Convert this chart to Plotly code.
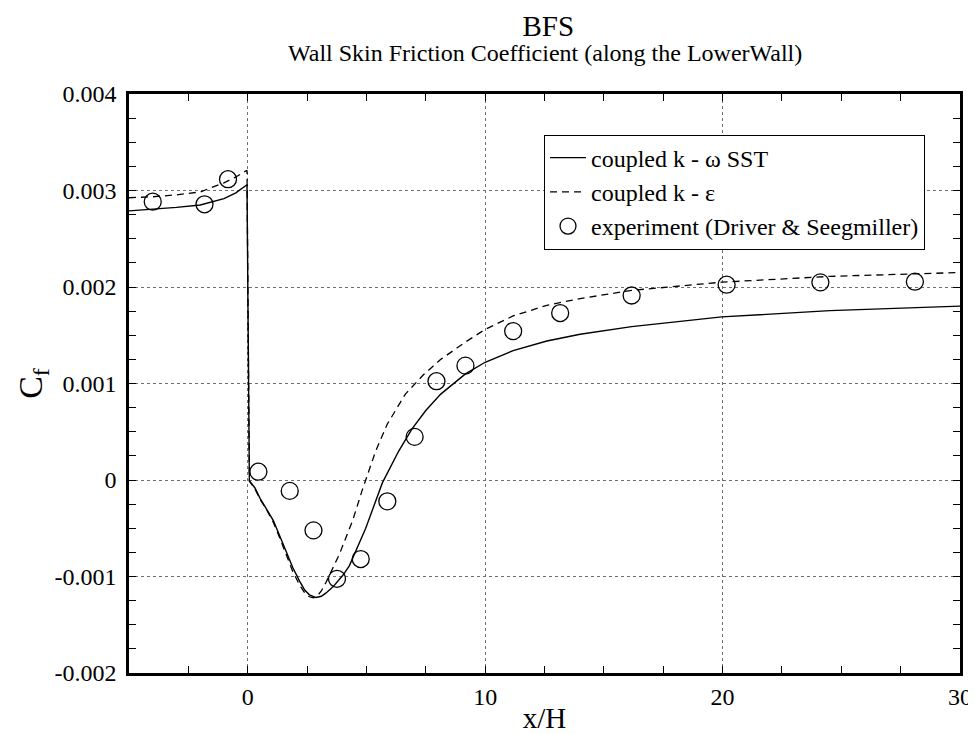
import plotly.graph_objects as go

# ---- data ----
sst_x = [-5, -4, -3, -2, -1, -0.5, -0.03, 0.07, 0.3, 0.52, 0.8, 1.08, 1.35, 1.63, 1.9,
         2.19, 2.4, 2.6, 2.88, 3.1, 3.3, 3.58, 4.0, 4.28, 4.97, 5.67, 6.36, 6.92, 7.5,
         8.13, 9.17, 10, 11.18, 12.6, 14, 16.17, 19.97, 24.52, 30]
sst_y = [2.789e-3, 2.805e-3, 2.825e-3, 2.85e-3, 2.915e-3, 2.975e-3, 3.06e-3, -0.01e-3,
         -0.08e-3, -0.19e-3, -0.3e-3, -0.42e-3, -0.58e-3, -0.75e-3, -0.91e-3,
         -1.05e-3, -1.14e-3, -1.19e-3, -1.218e-3, -1.205e-3, -1.17e-3, -1.11e-3,
         -0.99e-3, -0.89e-3, -0.5e-3, -0.03e-3, 0.3e-3, 0.53e-3, 0.72e-3,
         0.89e-3, 1.1e-3, 1.22e-3, 1.34e-3, 1.44e-3, 1.51e-3, 1.59e-3, 1.69e-3,
         1.755e-3, 1.802e-3]

ke_x = [-5, -4, -3, -2, -1, -0.5, -0.03, 0.07, 0.3, 0.52, 0.8, 1.08, 1.35, 1.63, 1.9,
        2.19, 2.4, 2.6, 2.76, 2.9, 3.1, 3.3, 3.58, 3.86, 4.42, 4.83, 5.39, 5.88, 6.64,
        7.4, 8.13, 9.17, 10, 11.18, 12.6, 14, 16.17, 19.97, 24.52, 30]
ke_y = [2.925e-3, 2.935e-3, 2.955e-3, 2.985e-3, 3.08e-3, 3.14e-3, 3.21e-3, -0.01e-3,
        -0.09e-3, -0.2e-3, -0.31e-3, -0.44e-3, -0.6e-3, -0.78e-3, -0.95e-3,
        -1.09e-3, -1.17e-3, -1.21e-3, -1.22e-3, -1.21e-3, -1.15e-3, -1.06e-3,
        -0.92e-3, -0.77e-3, -0.42e-3, -0.1e-3, 0.3e-3, 0.58e-3, 0.89e-3,
        1.09e-3, 1.25e-3, 1.43e-3, 1.56e-3, 1.7e-3, 1.81e-3, 1.88e-3, 1.965e-3,
        2.05e-3, 2.11e-3, 2.15e-3]

exp_x = [-4.0, -1.82, -0.83, 0.45, 1.77, 2.77, 3.76, 4.76, 5.88, 7.03, 7.95, 9.17,
         11.18, 13.16, 16.17, 20.17, 24.12, 28.1]
exp_y = [2.884e-3, 2.857e-3, 3.117e-3, 0.086e-3, -0.113e-3, -0.522e-3, -1.024e-3,
         -0.819e-3, -0.221e-3, 0.447e-3, 1.024e-3, 1.185e-3, 1.543e-3, 1.73e-3,
         1.912e-3, 2.024e-3, 2.048e-3, 2.055e-3]

x_tick_vals = [0, 10, 20, 30]
x_tick_text = ["0", "10", "20", "30"]
y_tick_vals = [-0.002, -0.001, 0, 0.001, 0.002, 0.003, 0.004]
y_tick_text = ["-0.002", "-0.001", "0", "0.001", "0.002", "0.003", "0.004"]

FONT = "Liberation Serif, Times New Roman, serif"

fig = go.Figure()
fig.add_trace(go.Scatter(x=sst_x, y=sst_y, mode="lines", name="coupled k - ω SST",
                         line=dict(color="black", width=1.4)))
fig.add_trace(go.Scatter(x=ke_x, y=ke_y, mode="lines", name="coupled k - ε",
                         line=dict(color="black", width=1.3, dash="7px,5px")))
fig.add_trace(go.Scatter(x=exp_x, y=exp_y, mode="markers",
                         name="experiment (Driver & Seegmiller)",
                         marker=dict(symbol="circle-open", size=17, color="black",
                                     line=dict(width=1.3, color="black"))))

axis_common = dict(
    ticks="inside", ticklen=7, tickwidth=1.2, tickcolor="black",
    showline=True, linewidth=2.5, linecolor="black", mirror="allticks",
    showgrid=True, gridcolor="#707070", griddash="dot", gridwidth=1,
    zeroline=False, tickfont=dict(family=FONT, size=24, color="black"),
)

fig.update_xaxes(range=[-5, 30], tickmode="array", tickvals=x_tick_vals,
                 ticktext=x_tick_text,
                 minor=dict(dtick=2.5, tick0=0, ticks="inside", ticklen=7,
                            tickwidth=1.2, tickcolor="black", showgrid=False),
                 title=dict(text="x/H", font=dict(family=FONT, size=29, color="black"),
                            standoff=0),
                 **axis_common)
fig.update_yaxes(range=[-0.002, 0.004], tickmode="array", tickvals=y_tick_vals,
                 ticktext=y_tick_text, ticklabelstandoff=5,
                 minor=dict(dtick=0.00025, tick0=0, ticks="inside", ticklen=7,
                            tickwidth=1.2, tickcolor="black", showgrid=False),
                 title=dict(text="C<sub>f</sub>", font=dict(family=FONT, size=34, color="black"),
                            standoff=2),
                 **axis_common)

fig.update_layout(
    width=976, height=734,
    margin=dict(l=121, r=16, t=86, b=62),
    paper_bgcolor="white", plot_bgcolor="white",
    font=dict(family=FONT, color="black"),
    title=dict(text="BFS", x=0.5535, xanchor="center", y=1 - 18 / 734, yanchor="middle",
               font=dict(family=FONT, size=29, color="black")),
    showlegend=True,
    legend=dict(x=0.4994, y=0.93, xanchor="left", yanchor="top",
                bgcolor="white", bordercolor="black", borderwidth=1,
                font=dict(family=FONT, size=24, color="black"),
                tracegroupgap=0, itemwidth=36),
    annotations=[dict(text="Wall Skin Friction Coefficient (along the LowerWall)",
                      xref="paper", yref="paper", x=0.5, y=(672 - 44) / 586,
                      xanchor="center", yanchor="middle", showarrow=False,
                      font=dict(family=FONT, size=24, color="black"))],
)

fig.write_html("out.html")
